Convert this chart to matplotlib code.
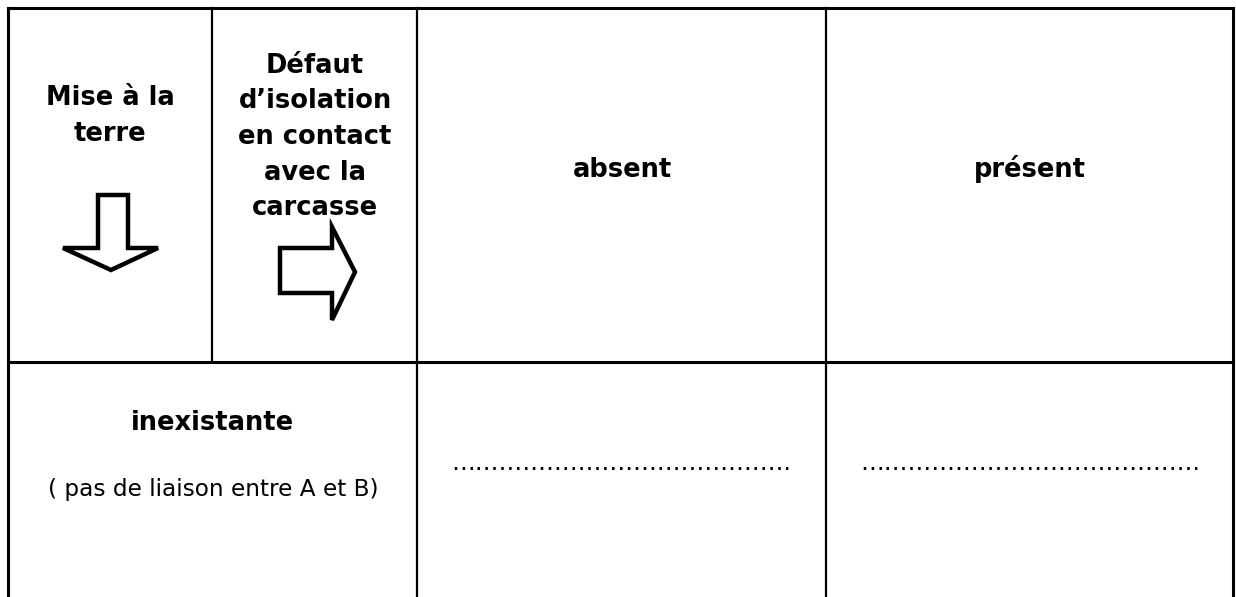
import matplotlib
matplotlib.use("Agg")
import matplotlib.pyplot as plt
from matplotlib.patches import Polygon

W, H = 1236, 597
fig = plt.figure(figsize=(W / 100, H / 100), dpi=100)
ax = fig.add_axes([0, 0, 1, 1])
ax.set_xlim(0, W)
ax.set_ylim(H, 0)
ax.axis("off")

col1_lines = ["Mise à la", "terre"]
col2_lines = ["Défaut", "d’isolation", "en contact", "avec la", "carcasse"]
header_labels = ["absent", "présent"]
row_title = "inexistante"
row_sub = "( pas de liaison entre A et B)"
dots = "…" * 14 + "."

FS = 18.5
bold = dict(fontsize=FS, fontweight="bold", family="DejaVu Sans", color="black",
            ha="center", va="baseline")

# grid lines
lw = 2.2
L, R, T, MID = 8, 1233, 8, 362
X1, X2, X3 = 212, 417, 826
ax.plot([L, R], [T, T], color="black", lw=lw, solid_capstyle="projecting")
ax.plot([L, R], [MID, MID], color="black", lw=lw)
ax.plot([L, L], [T, H], color="black", lw=lw)
ax.plot([R, R], [T, H], color="black", lw=lw)
ax.plot([X1, X1], [T, MID], color="black", lw=1.6)
ax.plot([X2, X2], [T, H], color="black", lw=1.6)
ax.plot([X3, X3], [T, H], color="black", lw=1.6)

# column 1 header
for i, s in enumerate(col1_lines):
    ax.text(110, 105 + i * 36, s, **bold)
# column 2 header
for i, s in enumerate(col2_lines):
    ax.text(315, 73 + i * 35.5, s, **bold)

ax.text(622, 177, header_labels[0], **bold)
ax.text(1030, 177, header_labels[1], **bold)

ax.text(212, 430, row_title, **bold)
ax.text(213, 496, row_sub, fontsize=16.7, family="DejaVu Sans", ha="center",
        va="baseline", color="black")

ax.text(621, 470, dots, fontsize=17, family="DejaVu Sans", ha="center", va="baseline")
ax.text(1030, 470, dots, fontsize=17, family="DejaVu Sans", ha="center", va="baseline")

# down arrow
down = [(98, 195), (128, 195), (128, 248), (158, 248), (111, 270), (63, 248), (98, 248)]
ax.add_patch(Polygon(down, closed=True, fill=False, edgecolor="black", lw=3.2, joinstyle="miter"))
# right arrow
right = [(280, 248), (332, 248), (332, 227), (355, 272), (332, 320), (332, 293), (280, 293)]
ax.add_patch(Polygon(right, closed=True, fill=False, edgecolor="black", lw=3.2, joinstyle="miter"))

fig.savefig("out.png", dpi=100, facecolor="white")
